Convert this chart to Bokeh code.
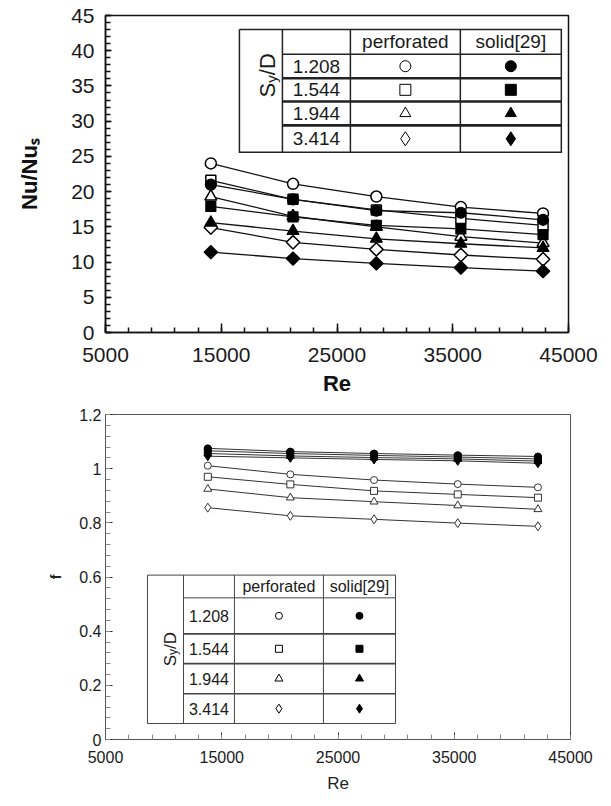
import math
from bokeh.plotting import figure
from bokeh.models import FixedTicker, ColumnDataSource, Range1d
from bokeh.layouts import column
from bokeh.embed import file_html
from bokeh.resources import INLINE
from bokeh.core.properties import value

FONT = "Liberation Sans"

# ---------------- data: top chart (Nu/Nu_s vs Re) ----------------
re_nu = [14100, 21200, 28400, 35700, 42800]
nu_perf_1208 = [24.0, 21.1, 19.3, 17.8, 16.9]
nu_perf_1544 = [21.6, 18.9, 17.4, 16.2, 15.2]
nu_perf_1944 = [19.3, 16.5, 15.0, 13.6, 12.7]
nu_perf_3414 = [14.9, 12.8, 11.8, 11.0, 10.4]
nu_solid_1208 = [21.0, 18.9, 17.3, 17.0, 16.0]
nu_solid_1544 = [17.9, 16.4, 15.2, 14.7, 13.9]
nu_solid_1944 = [15.6, 14.4, 13.3, 12.6, 12.0]
nu_solid_3414 = [11.4, 10.5, 9.8, 9.2, 8.7]

# ---------------- data: bottom chart (f vs Re) ----------------
re_f = [13800, 20900, 28100, 35300, 42200]
f_perf_1208 = [1.011, 0.979, 0.958, 0.943, 0.931]
f_perf_1544 = [0.970, 0.942, 0.918, 0.905, 0.893]
f_perf_1944 = [0.925, 0.893, 0.878, 0.864, 0.850]
f_perf_3414 = [0.856, 0.826, 0.813, 0.799, 0.787]
f_solid_1208 = [1.075, 1.063, 1.056, 1.050, 1.045]
f_solid_1544 = [1.066, 1.056, 1.049, 1.043, 1.036]
f_solid_1944 = [1.056, 1.047, 1.041, 1.036, 1.028]
f_solid_3414 = [1.046, 1.040, 1.034, 1.029, 1.020]

# ---------------- labels / ticks ----------------
sd_labels = ["1.208", "1.544", "1.944", "3.414"]
header_labels = ["perforated", "solid[29]"]
x_ticks = [5000, 15000, 25000, 35000, 45000]
x_tick_labels = ["5000", "15000", "25000", "35000", "45000"]
nu_ticks = [0, 5, 10, 15, 20, 25, 30, 35, 40, 45]
nu_tick_labels = ["0", "5", "10", "15", "20", "25", "30", "35", "40", "45"]
f_ticks = [0, 0.2, 0.4, 0.6, 0.8, 1.0, 1.2]
f_tick_labels = ["0", "0.2", "0.4", "0.6", "0.8", "1", "1.2"]

x_minor = [5000 + 2000 * i for i in range(21)]
nu_minor = list(range(0, 46))
f_minor = [round(0.04 * i, 2) for i in range(31)]

# table geometry (layout, in data units of each chart)
TBL1_X = [16570, 20285, 26157, 35656, 44380]
TBL1_Y = [43.0, 39.5, 36.1, 32.8, 29.4, 25.6]
TBL2_X = [8611, 11707, 16092, 23745, 29950]
TBL2_Y = [0.607, 0.523, 0.390, 0.280, 0.169, 0.059]

PERF_MARKERS = ["circle", "square", "triangle", "diamond"]


def base_fig(fw, fh, bl, br, bt, bb, yr):
    p = figure(frame_width=fw, frame_height=fh, min_border_left=bl, min_border_right=br,
               min_border_top=bt, min_border_bottom=bb, x_range=Range1d(5000, 45000),
               y_range=Range1d(*yr), output_backend="svg", toolbar_location=None,
               background_fill_color="white", border_fill_color="white")
    p.xgrid.visible = False
    p.ygrid.visible = False
    return p


def style_axis(ax, ticks, labels, minor, font_px, color, lw, maj_in, min_in, standoff, tick_color=None, minor_color=None):
    ax.ticker = FixedTicker(ticks=ticks, minor_ticks=minor)
    ax.major_label_overrides = {t: l for t, l in zip(ticks, labels)}
    ax.axis_line_color = color
    ax.axis_line_width = lw
    ax.major_tick_line_color = tick_color or color
    ax.minor_tick_line_color = minor_color or tick_color or color
    ax.major_tick_line_width = lw
    ax.minor_tick_line_width = lw
    ax.major_tick_in = maj_in
    ax.major_tick_out = 0
    ax.minor_tick_in = min_in
    ax.minor_tick_out = 0
    ax.major_label_text_font = FONT
    ax.major_label_text_font_size = f"{font_px}px"
    ax.major_label_text_color = "#1a1a1a"
    ax.major_label_standoff = standoff


def draw_table(p, xe, ye, val_px, head_px, sd_px, sub_px, lw, sep_w, color,
               msize, m_lw, sd_off):
    x0, x1, x2, x3, x4 = xe
    p.multi_line(xs=[[x0, x4, x4, x0, x0]], ys=[[ye[0], ye[0], ye[5], ye[5], ye[0]]],
                 line_color=color, line_width=lw, line_join="miter")
    p.multi_line(xs=[[x1, x1], [x2, x2], [x3, x3]], ys=[[ye[0], ye[5]]] * 3,
                 line_color=color, line_width=lw)
    p.multi_line(xs=[[x1, x4]], ys=[[ye[1], ye[1]]], line_color=color, line_width=lw)
    p.multi_line(xs=[[x1, x4]] * 3, ys=[[ye[2], ye[2]], [ye[3], ye[3]], [ye[4], ye[4]]],
                 line_color=color, line_width=sep_w)
    hy = (ye[0] + ye[1]) / 2
    p.text(x=[(x2 + x3) / 2, (x3 + x4) / 2], y=[hy, hy], text=header_labels,
           text_font=value(FONT), text_font_size=value(f"{head_px}px"),
           text_align="center", text_baseline="middle", text_color="#1a1a1a")
    rc = [(ye[i] + ye[i + 1]) / 2 for i in range(1, 5)]
    p.text(x=[(x1 + x2) / 2] * 4, y=rc, text=sd_labels,
           text_font=value(FONT), text_font_size=value(f"{val_px}px"),
           text_align="center", text_baseline="middle", text_color="#1a1a1a")
    cp = (x2 + x3) / 2
    cs = (x3 + x4) / 2
    for i, m in enumerate(PERF_MARKERS):
        s = msize[i]
        p.scatter([cp], [rc[i]], marker=m, size=s, fill_color="white", line_color="black",
                  line_width=m_lw)
        p.scatter([cs], [rc[i]], marker=m, size=s, fill_color="black", line_color="black",
                  line_width=m_lw)
    # rotated S_y/D
    cx = (x0 + x1) / 2
    cy = (ye[0] + ye[5]) / 2
    src = ColumnDataSource(dict(x=[cx] * 3, y=[cy] * 3, t=["S", "y", "/D"],
                                fs=[f"{sd_px}px", f"{sub_px}px", f"{sd_px}px"],
                                xo=sd_off[0], yo=sd_off[1]))
    p.text(x="x", y="y", text="t", source=src, text_font=value(FONT), text_font_size="fs",
           x_offset="xo", y_offset="yo", angle=math.pi / 2, text_align="left",
           text_baseline="alphabetic", text_color="#1a1a1a")


# ======================= TOP CHART =======================
p1 = base_fig(463, 317, 86, 46, 15, 70, (0, 45))
p1.outline_line_color = "#111111"
p1.outline_line_width = 1.5
style_axis(p1.xaxis[0], x_ticks, x_tick_labels, x_minor, 21, "#111111", 1.5, 9, 5, 15)
style_axis(p1.yaxis[0], nu_ticks, nu_tick_labels, nu_minor, 21, "#111111", 1.5, 6, 5, 11)
p1.xaxis.axis_label = "Re"
p1.xaxis.axis_label_text_font = FONT
p1.xaxis.axis_label_text_font_size = "22px"
p1.xaxis.axis_label_text_font_style = "bold"
p1.xaxis.axis_label_text_color = "#111111"
p1.xaxis.axis_label_standoff = 6
p1.yaxis.axis_label = "Nu/Nu\u209b"
p1.yaxis.axis_label_text_font = FONT
p1.yaxis.axis_label_text_font_size = "22px"
p1.yaxis.axis_label_text_font_style = "bold"
p1.yaxis.axis_label_text_color = "#111111"
p1.yaxis.axis_label_standoff = 26

nu_perf = [nu_perf_1208, nu_perf_1544, nu_perf_1944, nu_perf_3414]
nu_solid = [nu_solid_1208, nu_solid_1544, nu_solid_1944, nu_solid_3414]
for ys in nu_perf + nu_solid:
    p1.line(re_nu, ys, line_color="#111111", line_width=1.3)
top_sizes = {"circle": 11, "square": 10, "triangle": 12}
for m, ys in zip(PERF_MARKERS, nu_perf):
    if m == "diamond":
        p1.scatter(re_nu, ys, marker="square", angle=math.pi / 4, size=9.5,
                   fill_color="white", line_color="black", line_width=1.5)
    else:
        p1.scatter(re_nu, ys, marker=m, size=top_sizes[m], fill_color="white",
                   line_color="black", line_width=1.5)
for m, ys in zip(PERF_MARKERS, nu_solid):
    if m == "diamond":
        p1.scatter(re_nu, ys, marker="square", angle=math.pi / 4, size=9.5,
                   fill_color="black", line_color="black", line_width=1.2)
    else:
        p1.scatter(re_nu, ys, marker=m, size=top_sizes[m], fill_color="black",
                   line_color="black", line_width=1.2)

draw_table(p1, TBL1_X, TBL1_Y, 19, 19, 22, 15, 1.5, 2.6, "#222222",
           [11, 11, 11, 14], 1.0,
           ([7, 11, 7], [6.5, -8.2, -15.7]))

# ======================= BOTTOM CHART =======================
p2 = base_fig(465, 325, 105, 25, 12, 54, (0, 1.2))
p2.outline_line_color = "#555555"
p2.outline_line_width = 1
style_axis(p2.xaxis[0], x_ticks, x_tick_labels, x_minor, 16, "#555555", 1, 7, 5, 11,
           tick_color="#222222", minor_color="#888888")
style_axis(p2.yaxis[0], f_ticks, f_tick_labels, f_minor, 16, "#555555", 1, 7, 5, 4,
           tick_color="#222222", minor_color="#888888")
p2.xaxis.axis_label = "Re"
p2.xaxis.axis_label_text_font = FONT
p2.xaxis.axis_label_text_font_size = "17px"
p2.xaxis.axis_label_text_font_style = "normal"
p2.xaxis.axis_label_text_color = "#222222"
p2.xaxis.axis_label_standoff = 8
p2.yaxis.axis_label = "f"
p2.yaxis.axis_label_text_font = FONT
p2.yaxis.axis_label_text_font_size = "14px"
p2.yaxis.axis_label_text_font_style = "bold"
p2.yaxis.axis_label_text_color = "#222222"
p2.yaxis.axis_label_standoff = 12

f_perf = [f_perf_1208, f_perf_1544, f_perf_1944, f_perf_3414]
f_solid = [f_solid_1208, f_solid_1544, f_solid_1944, f_solid_3414]
for ys in f_perf + f_solid:
    p2.line(re_f, ys, line_color="#333333", line_width=1)
bot_sizes = {"circle": 7, "square": 7, "triangle": 8, "diamond": 9}
for m, ys in zip(PERF_MARKERS, f_perf):
    p2.scatter(re_f, ys, marker=m, size=bot_sizes[m], fill_color="white",
               line_color="#333333", line_width=1)
for m, ys in zip(PERF_MARKERS, f_solid):
    p2.scatter(re_f, ys, marker=m, size=bot_sizes[m], fill_color="black",
               line_color="black", line_width=1)

draw_table(p2, TBL2_X, TBL2_Y, 16, 16, 17, 12, 1, 1.6, "#444444",
           [7, 7, 8, 9], 1.0,
           ([5, 8, 5], [17, 5.7, -0.3]))

layout = column(p1, p2)
open("out.html", "w").write(file_html(layout, INLINE))
